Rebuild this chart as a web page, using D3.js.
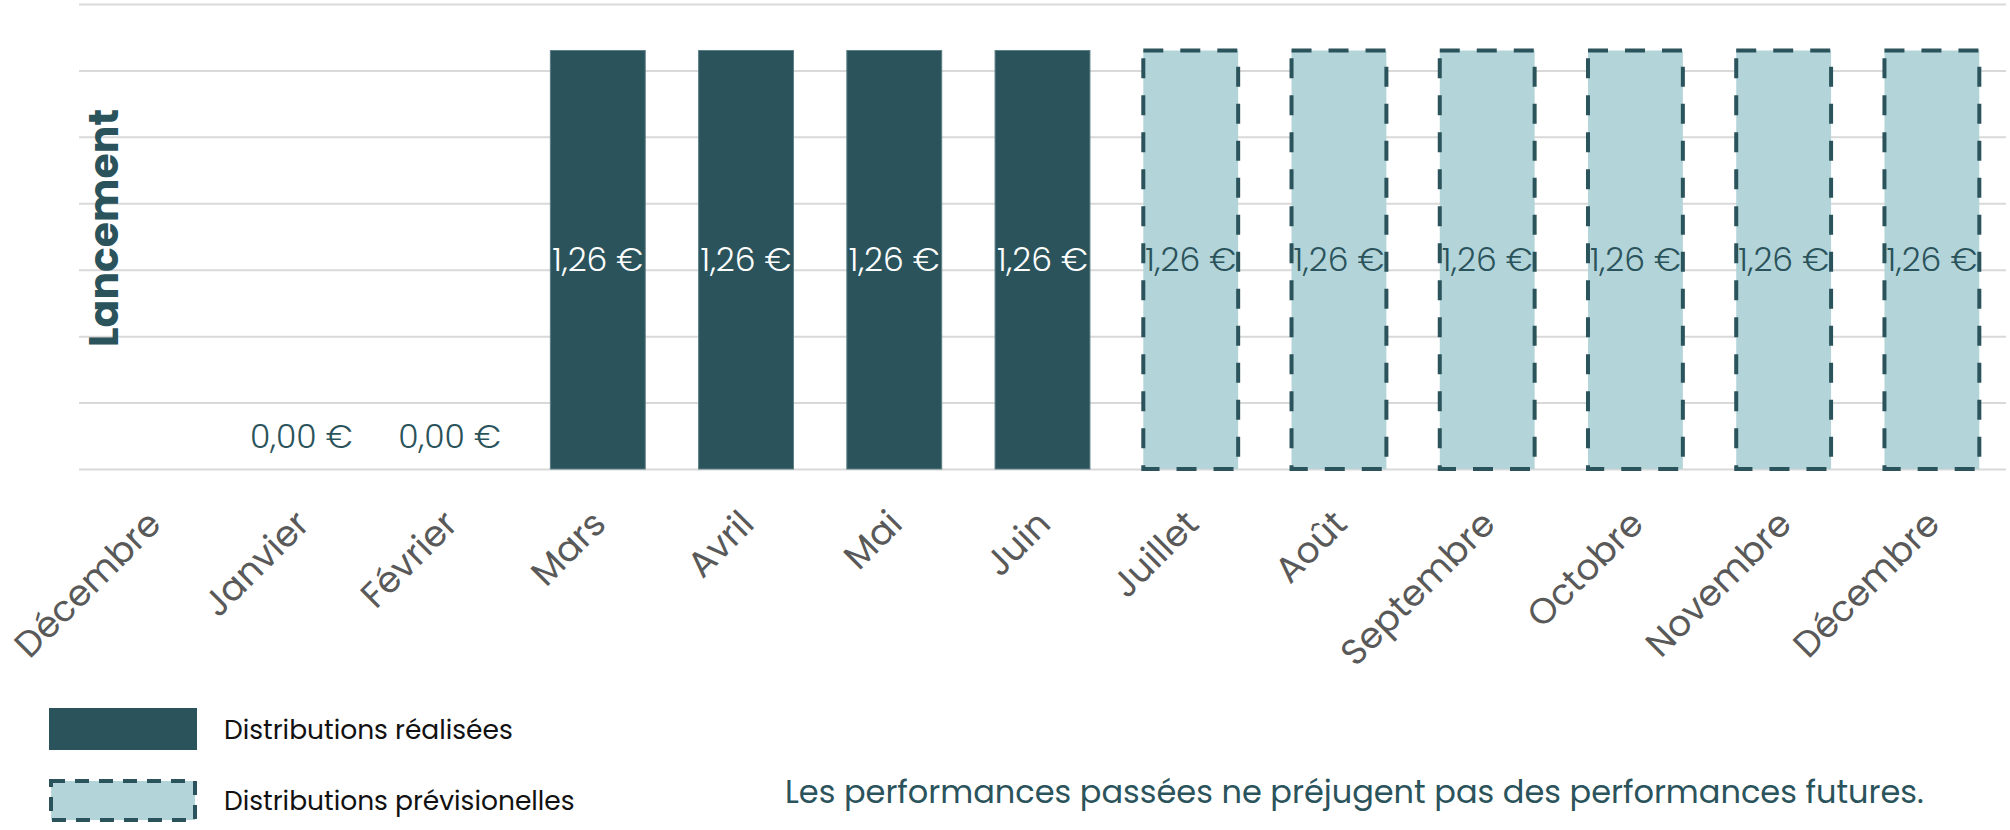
<!DOCTYPE html>
<html lang="fr">
<head>
<meta charset="utf-8">
<title>Distributions</title>
<script src="https://cdn.jsdelivr.net/npm/d3@7"></script>
<style>
    body { margin: 0; background: #fff; }
    #chart-area { width: 2010px; height: 830px; }
    text { font-family: Poppins, Lato, "Open Sans", sans-serif; }
</style>
</head>
<body>
<div id="chart-area"></div>
<script>

// chart data
let months = ["Décembre", "Janvier", "Février", "Mars", "Avril", "Mai", "Juin",
    "Juillet", "Août", "Septembre", "Octobre", "Novembre", "Décembre"];
let amounts = [null, 0, 0, 1.26, 1.26, 1.26, 1.26, 1.26, 1.26, 1.26, 1.26, 1.26, 1.26];
let kinds = ["none", "done", "done", "done", "done", "done", "done",
    "forecast", "forecast", "forecast", "forecast", "forecast", "forecast"];
let yTicks = [0, 0.2, 0.4, 0.6, 0.8, 1.0, 1.2, 1.4];
let legendLabels = ["Distributions réalisées", "Distributions prévisionelles"];
let sideLabel = "Lancement";
let footNote = "Les performances passées ne préjugent pas des performances futures.";


class DistVis {

    constructor(parentElement) {
        this.parentElement = parentElement;
        this.initVis();
    }

    initVis() {
        let vis = this;

        vis.dark = "#2b535b";
        vis.light = "#b3d5da";

        vis.margin = {top: 4, right: 4, bottom: 361, left: 79};
        vis.width = 2010 - vis.margin.left - vis.margin.right;
        vis.height = 830 - vis.margin.top - vis.margin.bottom;

        vis.root = d3.select("#" + vis.parentElement).append("svg")
            .attr("width", 2010)
            .attr("height", 830);

        vis.svg = vis.root.append("g")
            .attr("transform", `translate(${vis.margin.left}, ${vis.margin.top})`);

        vis.data = months.map((m, i) => ({key: i, month: m, value: amounts[i], kind: kinds[i]}));

        vis.x = d3.scaleBand()
            .domain(vis.data.map(d => d.key))
            .range([0, vis.width])
            .paddingInner(0.36)
            .paddingOuter(0.18);

        vis.y = d3.scaleLinear()
            .domain([0, 1.4])
            .range([vis.height, 0]);

        vis.wrangleData();
    }

    wrangleData() {
        let vis = this;
        vis.displayData = vis.data.filter(d => d.value !== null);
        vis.updateVis();
    }

    updateVis() {
        let vis = this;
        let fmt = v => v.toFixed(2).replace(".", ",") + " €";

        // grid lines
        let yAxis = d3.axisLeft(vis.y)
            .tickValues(yTicks)
            .tickSize(-vis.width)
            .tickFormat("");

        vis.svg.append("g")
            .attr("class", "grid")
            .call(yAxis)
            .call(g => g.select(".domain").remove())
            .selectAll("line")
            .attr("stroke", "#d9d9d9")
            .attr("stroke-width", 2);

        // bars
        let bars = vis.displayData.filter(d => d.value > 0);

        vis.svg.selectAll("rect.bar")
            .data(bars)
            .enter().append("rect")
            .attr("class", "bar")
            .attr("x", d => vis.x(d.key))
            .attr("y", d => vis.y(d.value))
            .attr("width", vis.x.bandwidth())
            .attr("height", d => vis.height - vis.y(d.value))
            .attr("fill", d => d.kind === "forecast" ? vis.light : vis.dark)
            .attr("stroke", d => d.kind === "forecast" ? vis.dark : "#5d7f86")
            .attr("stroke-width", d => d.kind === "forecast" ? 4 : 1)
            .attr("stroke-dasharray", d => d.kind === "forecast" ? "20,17" : null);

        // value labels
        vis.svg.selectAll("text.value")
            .data(vis.displayData)
            .enter().append("text")
            .attr("class", "value")
            .attr("x", d => vis.x(d.key) + vis.x.bandwidth() / 2)
            .attr("y", d => d.value > 0 ? (vis.y(d.value) + vis.height) / 2 : vis.height - 33)
            .attr("text-anchor", "middle")
            .attr("dominant-baseline", "central")
            .attr("font-size", 33)
            .attr("font-weight", 300)
            .attr("fill", d => d.kind === "done" && d.value > 0 ? "#ffffff" : vis.dark)
            .text(d => fmt(d.value));

        // x axis labels
        let xAxis = d3.axisBottom(vis.x)
            .tickSize(0)
            .tickFormat(i => months[i]);

        vis.svg.append("g")
            .attr("class", "x-axis")
            .attr("transform", `translate(0, ${vis.height})`)
            .call(xAxis)
            .call(g => g.select(".domain").remove())
            .selectAll("text")
            .attr("font-size", 36)
            .attr("fill", "#595959")
            .attr("text-anchor", "end")
            .attr("dy", null)
            .attr("y", null)
            .attr("transform", "translate(10, 57) rotate(-45)");

        // side label
        vis.root.append("text")
            .attr("transform", "translate(103, 228) rotate(-90)")
            .attr("text-anchor", "middle")
            .attr("dominant-baseline", "central")
            .attr("font-size", 41)
            .attr("font-weight", 700)
            .attr("fill", vis.dark)
            .text(sideLabel);

        // legend
        let legend = vis.root.append("g")
            .attr("transform", "translate(49, 708)");

        legendLabels.forEach((lab, i) => {
            let row = legend.append("g")
                .attr("transform", `translate(0, ${i * 71})`);
            row.append("rect")
                .attr("x", i === 1 ? 2 : 0)
                .attr("y", i === 1 ? 2 : 0)
                .attr("width", i === 1 ? 144 : 148)
                .attr("height", i === 1 ? 39 : 42)
                .attr("fill", i === 1 ? vis.light : vis.dark)
                .attr("stroke", i === 1 ? vis.dark : "none")
                .attr("stroke-width", 4)
                .attr("stroke-dasharray", i === 1 ? "14,10" : null);
            row.append("text")
                .attr("x", 175)
                .attr("y", 21)
                .attr("dominant-baseline", "central")
                .attr("font-size", 26.5)
                .attr("fill", "#111111")
                .text(lab);
        });

        // footnote
        vis.root.append("text")
            .attr("x", 785)
            .attr("y", 791)
            .attr("dominant-baseline", "central")
            .attr("font-size", 32)
            .attr("fill", vis.dark)
            .text(footNote);
    }
}

new DistVis("chart-area");
</script>
</body>
</html>
